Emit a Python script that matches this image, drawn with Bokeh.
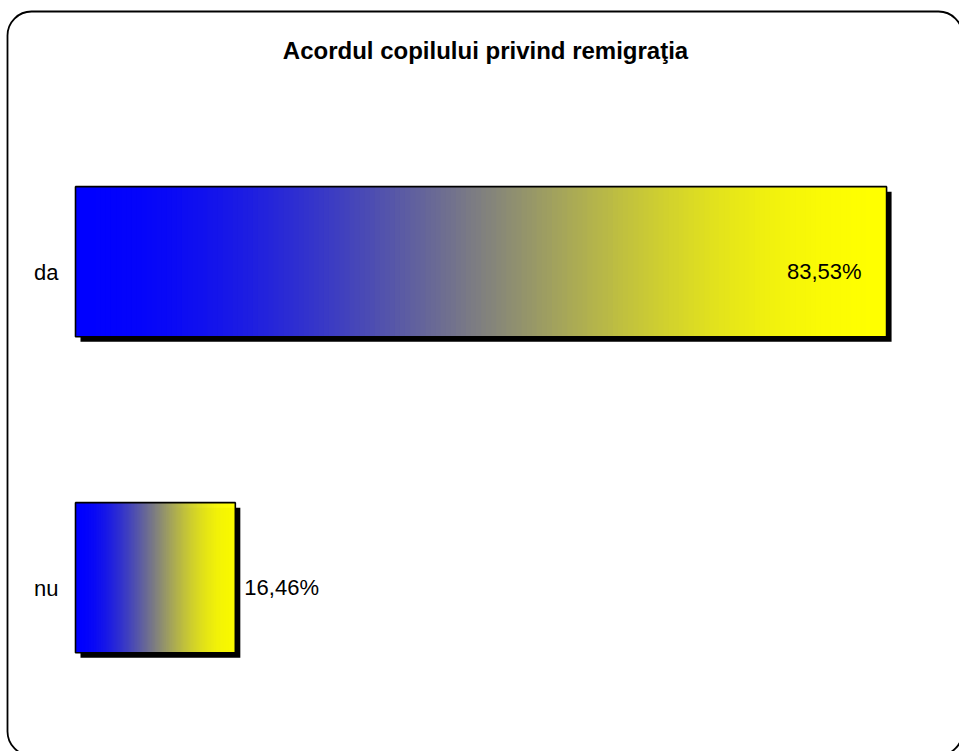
import numpy as np
from bokeh.plotting import figure
from bokeh.models import ColumnDataSource, Range1d, BoxAnnotation, Label
from bokeh.core.properties import value
from bokeh.embed import file_html
from bokeh.resources import INLINE

# ---------------- data ----------------
title_text = "Acordul copilului privind remigraţia"
categories = ["da", "nu"]
percentages = [83.53, 16.46]

# ---------------- layout constants (pixels) ----------------
W, H = 959, 751
PX_X = 9.71        # pixels per percent
PX_Y = 316.0       # pixels per category step
X0 = 75            # pixel column where 0 % sits
Y_FIRST = 261.2    # pixel row (from top) of first category centre
BAR_H = 0.475      # bar thickness in category units
SHADOW = 5         # shadow offset in px
FONT_NAME = "Liberation Sans"
FONT = value(FONT_NAME)

positions = [len(categories) - 1 - i for i in range(len(categories))]

x_start = -X0 / PX_X
x_end = (W - X0) / PX_X
y_end = positions[0] + Y_FIRST / PX_Y
y_start = y_end - H / PX_Y

p = figure(width=W, height=H, output_backend="svg", toolbar_location=None,
           x_range=Range1d(x_start, x_end), y_range=Range1d(y_start, y_end),
           min_border=0, min_border_left=0, min_border_right=0,
           min_border_top=0, min_border_bottom=0)
p.xaxis.visible = False
p.yaxis.visible = False
p.grid.visible = False
p.outline_line_color = None
p.background_fill_color = "white"
p.border_fill_color = "white"


def grad(t):
    s = t * t * (3 - 2 * t)
    r = int(round(255 * s))
    b = int(round(255 * (1 - s)))
    return "#%02x%02x%02x" % (r, r, b)


# shadows
dx = SHADOW / PX_X
dy = SHADOW / PX_Y
p.hbar(y=[y - dy for y in positions], left=[dx] * len(percentages),
       right=[v + dx for v in percentages], height=BAR_H,
       fill_color="black", line_color=None)

# gradient slices
N = 160
sl_y, sl_l, sl_r, sl_c = [], [], [], []
for y, v in zip(positions, percentages):
    for i in range(N):
        sl_y.append(y)
        sl_l.append(v * i / N)
        sl_r.append(v * min(i + 1.6, N) / N)
        sl_c.append(grad((i + 0.5) / N))
p.hbar(source=ColumnDataSource(dict(y=sl_y, left=sl_l, right=sl_r, color=sl_c)),
       y="y", left="left", right="right", height=BAR_H,
       fill_color="color", line_color=None)

# bar outlines
p.hbar(y=positions, left=[0] * len(percentages), right=percentages, height=BAR_H,
       fill_color=None, line_color="black", line_width=1.6)

# category labels
p.text(x=[0] * len(categories), y=positions, text=categories,
       x_offset=-17, y_offset=11, text_align="right", text_baseline="alphabetic",
       text_font=FONT, text_font_size="22px", text_color="black")

# value labels
lab_txt = [f"{v:.2f}".replace(".", ",") + "%" for v in percentages]
inside = [v > 50 for v in percentages]
p.text(x=percentages, y=positions, text=lab_txt,
       x_offset=[-25 if ins else 9 for ins in inside], y_offset=10,
       text_align=["right" if ins else "left" for ins in inside],
       text_baseline="alphabetic",
       text_font=FONT, text_font_size="22px", text_color="black")

# title
p.add_layout(Label(x=485, y=H - 50, x_units="screen", y_units="screen",
                   text=title_text, text_align="center", text_baseline="alphabetic",
                   text_font=FONT_NAME, text_font_style="bold", text_font_size="24px",
                   text_color="black"))

# rounded outer frame
p.add_layout(BoxAnnotation(left=7, right=962, top=H - 11, bottom=H - 755,
                           left_units="screen", right_units="screen",
                           top_units="screen", bottom_units="screen",
                           fill_color=None, fill_alpha=0,
                           line_color="black", line_alpha=1.0, line_width=1.8,
                           border_radius=24))

open("out.html", "w").write(file_html(p, INLINE))
